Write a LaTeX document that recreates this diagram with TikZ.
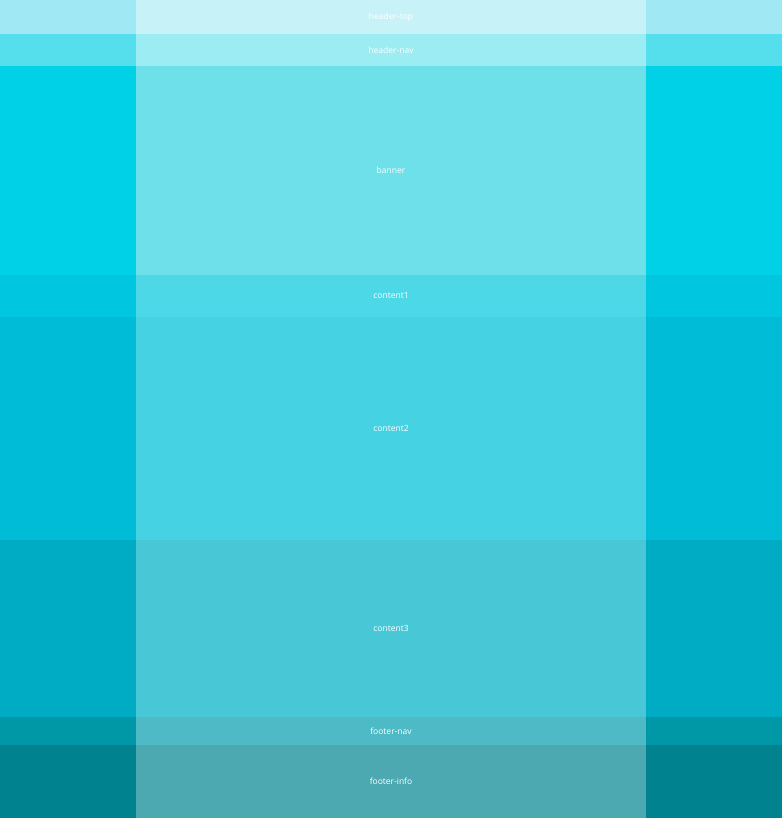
\documentclass[tikz,border=0pt]{standalone}
\usepackage{fontspec}
\setmainfont{Open Sans}
\definecolor{cHT}{HTML}{A0E9F4}
\definecolor{cHN}{HTML}{55DEEB}
\definecolor{cBN}{HTML}{00D1E6}
\definecolor{cCA}{HTML}{00C7DF}
\definecolor{cCB}{HTML}{00BCD7}
\definecolor{cCC}{HTML}{00ACC4}
\definecolor{cFN}{HTML}{0097A7}
\definecolor{cFI}{HTML}{00838F}
\definecolor{iHT}{HTML}{C7F3F8}
\definecolor{iHN}{HTML}{9BECF3}
\definecolor{iBN}{HTML}{6DE0EA}
\definecolor{iCA}{HTML}{4DD8E7}
\definecolor{iCB}{HTML}{45D2E3}
\definecolor{iCC}{HTML}{48C8D6}
\definecolor{iFN}{HTML}{4DBAC6}
\definecolor{iFI}{HTML}{4DA9B1}
\begin{document}
\begin{tikzpicture}[x=1pt,y=-1pt,
  band/.style={fill=#1},
  lbl/.style={text=white,font=\fontsize{8.5}{10}\selectfont,inner sep=0pt}]
\useasboundingbox (0,0) rectangle (782,818);
\foreach \ya/\yb/\c/\ci/\t [count=\i] in {0/34/cHT/iHT/header-top,34/66/cHN/iHN/header-nav,66/275/cBN/iBN/banner,275/317/cCA/iCA/content1,317/540/cCB/iCB/content2,540/717/cCC/iCC/content3,717/745/cFN/iFN/footer-nav,745/818/cFI/iFI/footer-info}{
  \fill[band=\c] (0,\ya) rectangle (782,\yb);
  \fill[band=\ci] (136,\ya) rectangle (646,\yb);
  \node[lbl] (n\i) at (391,{(\ya+\yb)/2}) {\t};
}
\end{tikzpicture}
\end{document}
